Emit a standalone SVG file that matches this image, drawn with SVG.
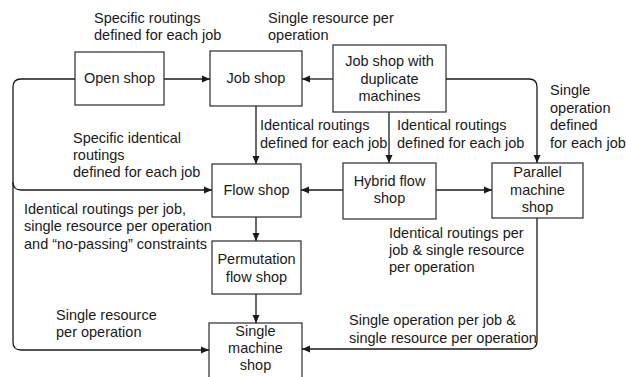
<svg xmlns="http://www.w3.org/2000/svg" width="626" height="377" viewBox="0 0 626 377">
<defs>
<style>
text{font-family:"Liberation Sans",Arial,sans-serif;font-size:14.5px;fill:#1a1a1a}
.c{text-anchor:middle}
.box{fill:#fff;stroke:#2a2a2a;stroke-width:1.2}
.ln{fill:none;stroke:#1a1a1a;stroke-width:1.3}
</style>
<marker id="ah" markerUnits="userSpaceOnUse" markerWidth="10" markerHeight="10" viewBox="0 0 10 10" refX="9" refY="5" orient="auto">
<path d="M1,1.5 L9,5 L1,8.5 Z" fill="#1a1a1a"/>
</marker>
</defs>
<rect width="626" height="377" fill="#fff"/>
<g id="connectors">
<path class="ln" d="M164,79 H210" marker-end="url(#ah)"/>
<path class="ln" d="M333,79 H302" marker-end="url(#ah)"/>
<path class="ln" d="M256,106 V164" marker-end="url(#ah)"/>
<path class="ln" d="M75,79 H21 Q13,79 13,87 V182 Q13,190 21,190 H212" marker-end="url(#ah)"/>
<path class="ln" d="M13,182 V342 Q13,350 21,350 H209" marker-end="url(#ah)"/>
<path class="ln" d="M389,112 V163" marker-end="url(#ah)"/>
<path class="ln" d="M446,79 H529 Q537,79 537,87 V163" marker-end="url(#ah)"/>
<path class="ln" d="M343,190 H301" marker-end="url(#ah)"/>
<path class="ln" d="M436,190 H492" marker-end="url(#ah)"/>
<path class="ln" d="M256,217 V241" marker-end="url(#ah)"/>
<path class="ln" d="M256,294 V323" marker-end="url(#ah)"/>
<path class="ln" d="M537,218 V341 Q537,349 529,349 H302" marker-end="url(#ah)"/>
</g>
<g id="open-shop">
<rect class="box" x="75" y="52" width="89" height="53"/>
<text class="c" x="119.5" y="83">Open shop</text>
</g>
<g id="job-shop">
<rect class="box" x="210" y="51" width="92" height="55"/>
<text class="c" x="256" y="83">Job shop</text>
</g>
<g id="job-shop-duplicate">
<rect class="box" x="333" y="45" width="113" height="67"/>
<text class="c" x="389.5" y="66">Job shop with</text>
<text class="c" x="389.5" y="83.5">duplicate</text>
<text class="c" x="389.5" y="101">machines</text>
</g>
<g id="flow-shop">
<rect class="box" x="212" y="164" width="89" height="53"/>
<text class="c" x="256.5" y="195">Flow shop</text>
</g>
<g id="hybrid-flow-shop">
<rect class="box" x="343" y="163" width="93" height="56"/>
<text class="c" x="389.5" y="186">Hybrid flow</text>
<text class="c" x="389.5" y="203">shop</text>
</g>
<g id="parallel-machine-shop">
<rect class="box" x="492" y="163" width="91" height="55"/>
<text class="c" x="537.5" y="177">Parallel</text>
<text class="c" x="537.5" y="194.5">machine</text>
<text class="c" x="537.5" y="212">shop</text>
</g>
<g id="permutation-flow-shop">
<rect class="box" x="212" y="241" width="89" height="53"/>
<text class="c" x="256.5" y="264">Permutation</text>
<text class="c" x="256.5" y="282">flow shop</text>
</g>
<g id="single-machine-shop">
<rect class="box" x="209" y="323" width="93" height="62"/>
<text class="c" x="255.5" y="336">Single</text>
<text class="c" x="255.5" y="353">machine</text>
<text class="c" x="255.5" y="370">shop</text>
</g>
<g id="labels">
<text x="94" y="23">Specific routings</text>
<text x="94" y="39.5">defined for each job</text>
<text x="268" y="23">Single resource per</text>
<text x="268" y="39.5">operation</text>
<text x="550" y="95">Single</text>
<text x="550" y="112.5">operation</text>
<text x="550" y="130">defined</text>
<text x="550" y="148">for each job</text>
<text x="260" y="130">Identical routings</text>
<text x="260" y="147.5">defined for each job</text>
<text x="397" y="130">Identical routings</text>
<text x="397" y="147.5">defined for each job</text>
<text x="73" y="143">Specific identical</text>
<text x="73" y="160">routings</text>
<text x="73" y="177">defined for each job</text>
<text x="24" y="213.5">Identical routings per job,</text>
<text x="24" y="231">single resource per operation</text>
<text x="24" y="248.5">and “no-passing” constraints</text>
<text x="389" y="237.5">Identical routings per</text>
<text x="389" y="255">job &amp; single resource</text>
<text x="389" y="272">per operation</text>
<text x="56" y="320">Single resource</text>
<text x="56" y="336.5">per operation</text>
<text x="349" y="325">Single operation per job &amp;</text>
<text x="349" y="342.5">single resource per operation</text>
</g>
</svg>
